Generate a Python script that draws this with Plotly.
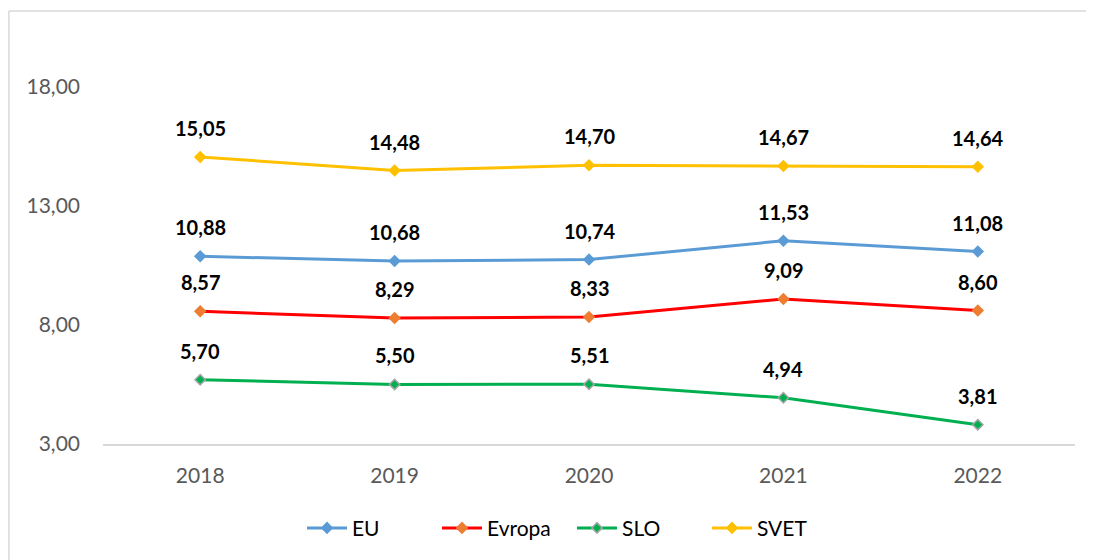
import plotly.graph_objects as go

# podatki
leta = ["2018", "2019", "2020", "2021", "2022"]
eu = [10.88, 10.68, 10.74, 11.53, 11.08]
evropa = [8.57, 8.29, 8.33, 9.09, 8.60]
slo = [5.70, 5.50, 5.51, 4.94, 3.81]
svet = [15.05, 14.48, 14.70, 14.67, 14.64]
y_ticks = [3, 8, 13, 18]

serije = [
    ("EU", eu, "#5B9BD5", "#5B9BD5", "#5B9BD5"),
    ("Evropa", evropa, "#FF0000", "#ED7D31", "#ED7D31"),
    ("SLO", slo, "#00B050", "#00B050", "#A5A5A5"),
    ("SVET", svet, "#FFC000", "#FFC000", "#FFC000"),
]

font_family = "Lato, 'Open Sans', sans-serif"

fig = go.Figure()
for ime, vrednosti, barva, marker_barva, rob in serije:
    fig.add_trace(go.Scatter(
        x=leta, y=vrednosti, name=ime, mode="lines+markers",
        line=dict(color=barva, width=3),
        marker=dict(symbol="diamond", size=8, color=marker_barva,
                    line=dict(color=rob, width=1.5)),
    ))
    # oznake podatkov (x kot indeks kategorije)
    for i, v in enumerate(vrednosti):
        fig.add_annotation(
            x=i, y=v, text="<b>" + f"{v:.2f}".replace(".", ",") + "</b>",
            showarrow=False, yshift=29,
            font=dict(size=20, color="black", family=font_family),
        )

# okvir grafikona: samo zgornji in levi rob sta vidna
rob_okvir = dict(color="#D9D9D9", width=1.5)

# velikost manjsa za 8px robove strani, da ni drsnikov
fig.update_layout(
    width=1086, height=552,
    margin=dict(l=95, r=19, t=31, b=115),
    plot_bgcolor="white", paper_bgcolor="white",
    separators=",.",
    font=dict(family=font_family, size=21, color="#595959"),
    showlegend=True,
    legend=dict(orientation="h", x=0.4825, xanchor="center", y=-0.205, yanchor="middle",
                font=dict(size=21, color="black"), itemwidth=40,
                entrywidth=80, traceorder="normal"),
    shapes=[
        dict(type="line", xref="paper", yref="paper",
             x0=-0.0968, x1=1.03, y0=1.069, y1=1.069, line=rob_okvir),
        dict(type="line", xref="paper", yref="paper",
             x0=-0.0968, x1=-0.0968, y0=-0.3, y1=1.069, line=rob_okvir),
    ],
)
fig.update_xaxes(
    type="category", range=[-0.5, 4.5],
    showline=True, linecolor="#D9D9D9", linewidth=1.5,
    showgrid=False, ticks="", ticklabelstandoff=12,
)
fig.update_yaxes(
    range=[3, 20], tickvals=y_ticks, tickformat=".2f",
    showgrid=False, zeroline=False, showline=False,
    ticks="", ticklabelstandoff=22,
)

fig.write_html("out.html")
